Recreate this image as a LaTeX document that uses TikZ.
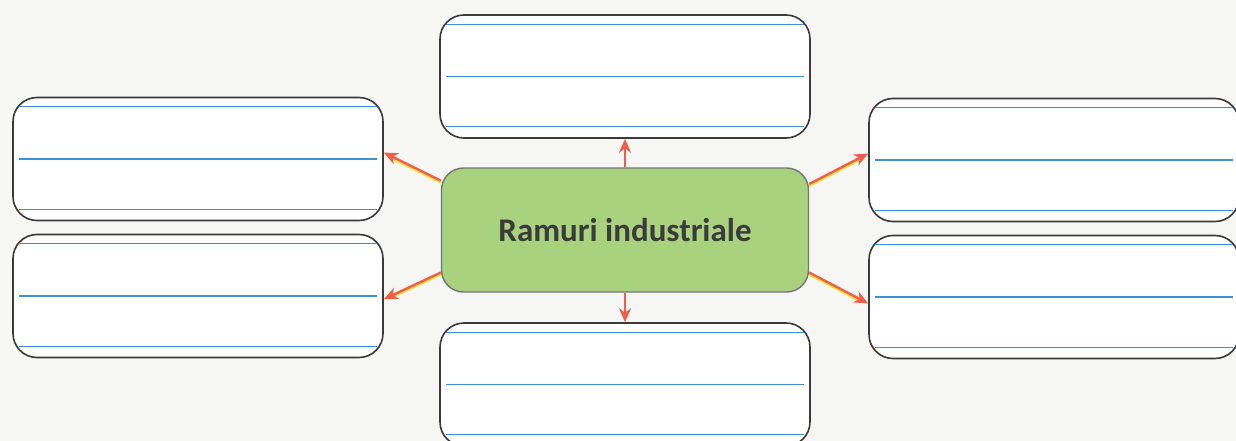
\documentclass[tikz,border=0pt]{standalone}
\usepackage{fontspec}
\setmainfont{Carlito}
\usetikzlibrary{calc,arrows.meta}
\definecolor{bg}{HTML}{F6F6F5}
\definecolor{frame}{HTML}{3A3A3A}
\definecolor{rule}{HTML}{3A90DA}
\definecolor{arr}{HTML}{F25C4A}
\definecolor{arrsh}{HTML}{F4E33A}
\definecolor{green}{HTML}{A9D27F}
\definecolor{txt}{HTML}{3B3B3B}
\tikzset{
  wbox/.style={draw=frame, line width=1.6pt, fill=white, rounded corners=24pt,
    minimum width=370pt, minimum height=123pt, inner sep=0pt},
  cbox/.style={draw=frame!70, line width=1.4pt, fill=green, rounded corners=22pt,
    minimum width=367pt, minimum height=124pt, inner sep=0pt,
    font=\bfseries\fontsize{33}{38}\selectfont, text=txt},
  ruleline/.style={draw=rule, line width=1.1pt},
  shadowline/.style={draw=arrsh, line width=2.2pt},
  arrowline/.style={draw=arr, line width=2.4pt, -{Stealth[length=14pt,width=12pt]}},
}
\newcommand{\boxrules}[1]{%
  \draw[ruleline] ($(#1.north west)+(7,10)$) -- ($(#1.north east)+(-7,10)$);
  \draw[ruleline] ($(#1.west)+(7,0)$) -- ($(#1.east)+(-7,0)$);
  \draw[ruleline] ($(#1.south west)+(7,-12)$) -- ($(#1.south east)+(-7,-12)$);
}
\begin{document}
\begin{tikzpicture}[x=1pt,y=-1pt]
\fill[bg] (0,0) rectangle (1236,441);
\useasboundingbox (0,0) rectangle (1236,441);

\node[wbox] (top) at (625,76.5) {};
\node[wbox] (lu) at (198,159) {};
\node[wbox] (ll) at (198,296) {};
\node[wbox] (ru) at (1054,160) {};
\node[wbox] (rl) at (1054,297) {};
\node[wbox] (bot) at (625,384.5) {};
\boxrules{top}
\boxrules{lu}
\boxrules{ll}
\boxrules{ru}
\boxrules{rl}
\boxrules{bot}

\node[cbox] (c) at (625,230) {Ramuri industriale};
\foreach \s/\t in {165/lu.2, 193/ll.-1, 14/ru.178, -13/rl.182} {
  \draw[shadowline, shorten >=10pt] ([yshift=-2pt]c.\s) -- ([yshift=-2pt]\t);
  \draw[arrowline] (c.\s) -- (\t);
}
\draw[arrowline] (c.north) -- (top.south);
\draw[arrowline] (c.south) -- (bot.north);
\end{tikzpicture}
\end{document}
